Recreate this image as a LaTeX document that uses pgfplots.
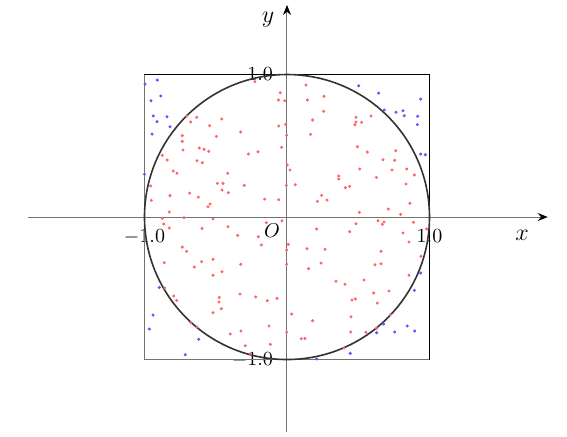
\documentclass[border=0pt]{standalone}
\usepackage{pgfplots}
\pgfplotsset{compat=1.18}
\usetikzlibrary{arrows.meta}
\begin{document}
\begin{tikzpicture}
\begin{axis}[
  x=2.504cm, y=2.504cm,
  xmin=-1.818, xmax=1.83, ymin=-1.509, ymax=1.488,
  axis lines=middle,
  axis line style={black!55, line width=0.5pt, -{Stealth[black, length=5pt, width=4pt]}},
  xtick={-1,1}, ytick={-1,1},
  major tick length=0pt,
  xticklabel style={yshift=-3pt, /pgf/number format/fixed, /pgf/number format/fixed zerofill, /pgf/number format/precision=1},
  yticklabel style={xshift=-3.5pt, /pgf/number format/fixed, /pgf/number format/fixed zerofill, /pgf/number format/precision=1},
  clip=false,
]
\addplot[only marks, mark=*, mark size=0.55pt, color=red!60] coordinates {
(-0.225,0.95) (-0.047,0.872) (-0.06,0.821) (-0.016,0.816) (-0.704,0.709) (-0.676,0.667) (-0.634,0.70) (-0.458,0.688) (-0.543,0.641) (-0.058,0.639) (-0.009,0.65) (-0.735,0.571) (-0.325,0.596) (-0.496,0.566) (-0.002,0.573) (-0.735,0.531) (-0.615,0.484) (-0.582,0.475) (-0.549,0.461) (-0.73,0.47) (-0.037,0.489) (-0.204,0.458) (-0.271,0.442) (-0.875,0.433) (-0.84,0.40) (-0.632,0.395) (-0.594,0.381) (0.002,0.365) (0.021,0.33) (-0.798,0.323) (-0.772,0.307) (-0.416,0.307)
(-0.957,0.218) (-0.489,0.236) (-0.449,0.236) (-0.3,0.222) (-0.456,0.189) (-0.412,0.171) (-0.821,0.15) (-0.683,0.168) (-0.622,0.14) (-0.952,0.117) (-0.54,0.091) (-0.554,0.072) (-0.157,0.126) (-0.058,0.121) (-0.005,0.222) (0.058,0.227) (-0.826,0.035) (-0.723,-0.005) (-0.875,-0.009) (-0.519,-0.014) (-0.865,-0.049) (-0.826,-0.077) (-0.596,-0.08) (-0.414,-0.068) (-0.145,-0.04) (-0.035,-0.026) (-0.346,-0.129) (-0.201,-0.138) (-0.18,-0.196) (-0.735,-0.211) (-0.704,-0.241) (0.009,-0.192) (-0.002,-0.232) (-0.861,-0.321) (-0.599,-0.313) (-0.519,-0.297) (-0.65,-0.351) (-0.325,-0.332) (-0.002,-0.332) (-0.456,-0.384) (-0.519,-0.409) (-0.858,-0.498)
(-0.795,-0.554) (-0.774,-0.585) (-0.475,-0.564) (-0.477,-0.596) (-0.461,-0.643) (-0.33,-0.54) (-0.22,-0.561) (-0.138,-0.587) (-0.07,-0.571) (-0.519,-0.671) (0.033,-0.681) (-0.674,-0.741) (-0.632,-0.772) (-0.398,-0.821) (-0.323,-0.80) (-0.126,-0.765) (-0.002,-0.809) (-0.293,-0.903) (-0.117,-0.893) (-0.255,-0.961)
(0.133,0.926) (0.143,0.821) (0.26,0.847) (0.257,0.742) (0.18,0.681) (0.484,0.70) (0.484,0.667) (0.524,0.664) (0.477,0.648) (0.589,0.709) (0.166,0.58) (0.494,0.493) (0.564,0.456) (0.763,0.465) (0.674,0.402) (0.756,0.398) (0.51,0.337) (0.737,0.33) (0.84,0.337) (0.894,0.295) (0.363,0.288) (0.363,0.267) (0.627,0.278) (0.835,0.232) (0.41,0.206) (0.44,0.215) (0.243,0.152) (0.213,0.11) (0.281,0.119) (0.863,0.096) (0.508,0.033) (0.711,0.056) (0.798,0.019)
(0.484,-0.047) (0.639,-0.026) (0.681,-0.035) (0.669,-0.051) (0.887,-0.037) (0.208,-0.084) (0.44,-0.103) (0.814,-0.112) (0.98,-0.084) (0.856,-0.175) (0.14,-0.222) (0.267,-0.227) (0.66,-0.241) (0.94,-0.276) (0.239,-0.323) (0.618,-0.335) (0.66,-0.328) (0.152,-0.363) (0.856,-0.409) (0.344,-0.451) (0.407,-0.472) (0.54,-0.442) (0.18,-0.728) (0.1,-0.854) (0.126,-0.852) (0.456,-0.582) (0.48,-0.575) (0.608,-0.533) (0.716,-0.519) (0.634,-0.604) (0.449,-0.70) (0.447,-0.807) (0.554,-0.809) (0.725,-0.685) (0.629,-0.781) (0.4,-0.919)
};
\addplot[only marks, mark=*, mark size=0.55pt, color=blue!65] coordinates {
(-0.996,0.933) (-0.91,0.961) (-0.886,0.849) (-0.954,0.816) (-0.938,0.709) (-0.842,0.704) (-0.912,0.669) (-0.821,0.634) (-0.947,0.582) (-1.0,0.30) (-0.896,-0.494) (-0.94,-0.688) (-0.966,-0.786) (-0.62,-0.858) (-0.714,-0.966) (0.503,0.921) (0.643,0.87) (0.683,0.751) (0.765,0.735) (0.814,0.746) (0.823,0.711) (0.938,0.828) (0.917,0.707) (0.915,0.648) (0.938,0.442) (0.971,0.437) (0.938,-0.393) (0.894,-0.515) (0.678,-0.751) (0.629,-0.812) (0.756,-0.807) (0.844,-0.765) (0.896,-0.80) (0.444,-0.957) (0.208,-0.996)
};
\draw[black!55, line width=0.5pt] (axis cs:1,-1) -- (axis cs:-1,-1) -- (axis cs:-1,1);
\draw[black, line width=0.9pt] (axis cs:-1,1) -- (axis cs:1,1) -- (axis cs:1,-1);
\draw[black!80, line width=0.8pt] (axis cs:0,0) circle [radius=1];
\node[anchor=north east] at (axis cs:0,0) {$O$};
\node at (axis cs:1.65,-0.13) {\large $x$};
\node at (axis cs:-0.133,1.385) {\large $y$};
\coordinate (bl) at (axis cs:-2.014,-1.537);
\coordinate (tr) at (axis cs:1.965,1.523);
\end{axis}
\pgfresetboundingbox
\path[use as bounding box] (bl) rectangle (tr);
\end{tikzpicture}
\end{document}
